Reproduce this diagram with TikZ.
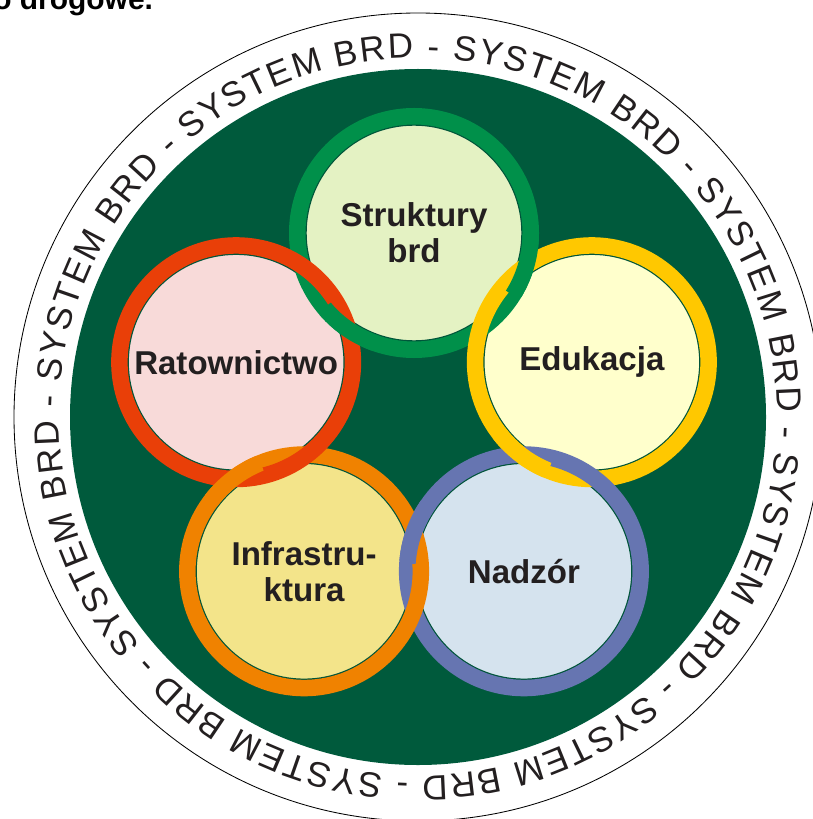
\documentclass[tikz,border=0pt]{standalone}
\usepackage{fontspec}
\setmainfont{Liberation Sans}
\newfontfamily\napisfont{Liberation Sans}
\usetikzlibrary{calc,decorations.text}

\definecolor{tlo}{HTML}{005A3C}
\definecolor{kontur}{HTML}{00553A}
\definecolor{tekst}{HTML}{231F20}
\definecolor{zielony}{HTML}{00904A}
\definecolor{zielonyfill}{HTML}{E4F2C3}
\definecolor{czerwony}{HTML}{E93F08}
\definecolor{czerwonyfill}{HTML}{F8DAD9}
\definecolor{zolty}{HTML}{FFC800}
\definecolor{zoltyfill}{HTML}{FFFFCC}
\definecolor{pomarancz}{HTML}{F08200}
\definecolor{pomaranczfill}{HTML}{F3E48A}
\definecolor{niebieski}{HTML}{6675B1}
\definecolor{niebieskifill}{HTML}{D5E3EE}

\tikzset{
  obwod/.style={line width=0.4125cm},
  wnetrze/.style={draw=kontur,line width=1pt},
  etykieta/.style={text=tekst,align=center,inner sep=0pt,
    font=\bfseries\fontsize{23.5}{25.6}\selectfont}
}

\begin{document}
\begin{tikzpicture}[x=0.025cm,y=0.025cm]

\useasboundingbox (0,0) rectangle (812,-819);

% resztka tekstu nad rysunkiem
\node[anchor=base west,inner sep=0pt,text=black,
  font=\bfseries\fontsize{21.3}{24}\selectfont] (naglowek) at (-7,-10) {o drogowe.};

\coordinate (s) at (418,-417);
\draw[line width=0.6pt] (s) circle (404);
\fill[tlo] (s) circle (348);

% napis dookola
\pgfmathsetmacro{\start}{129.6}
\path[decorate,decoration={text along path,text align={fit to path},text color=tekst,
  text={|\napisfont\fontsize{24.9}{25}\selectfont|SYSTEM BRD - SYSTEM BRD - SYSTEM BRD - SYSTEM BRD - SYSTEM BRD - SYSTEM BRD - SYSTEM BRD - SYSTEM BRD -}}]
  ($(s)+(\start:359)$) arc[start angle=\start,delta angle=-358,radius=359];

\begin{scope}[shift={(414,-420)}]
\pgfmathsetmacro{\pk}{116.75}

\coordinate (o) at (0,0);
\coordinate (g) at (90:187);
\coordinate (y) at (18:187);
\coordinate (b) at (-54:187);
\coordinate (p) at (234:187);
\coordinate (r) at (162:187);

% wnetrza kol
\filldraw[wnetrze,fill=zielonyfill] (g) circle (108);
\filldraw[wnetrze,fill=zoltyfill] (y) circle (108);
\filldraw[wnetrze,fill=niebieskifill] (b) circle (108);
\filldraw[wnetrze,fill=pomaranczfill] (p) circle (108);
\filldraw[wnetrze,fill=czerwonyfill] (r) circle (108);

% obwody
\draw[obwod,zielony] (g) circle (\pk);
\draw[obwod,zolty] (y) circle (\pk);
\draw[obwod,niebieski] (b) circle (\pk);
\draw[obwod,pomarancz] (p) circle (\pk);
\draw[obwod,czerwony] (r) circle (\pk);

% przeplatanie
\begin{scope}
\clip (126:111.9) circle (32);
\draw[obwod,zielony] (g) circle (\pk);
\end{scope}
\begin{scope}
\clip (54:190.7) circle (32);
\draw[obwod,zielony] (g) circle (\pk);
\end{scope}
\begin{scope}
\clip (198:190.7) circle (32);
\draw[obwod,pomarancz] (p) circle (\pk);
\end{scope}
\begin{scope}
\clip (-90:111.9) circle (32);
\draw[obwod,niebieski] (b) circle (\pk);
\end{scope}
\begin{scope}
\clip (-18:111.9) circle (32);
\draw[obwod,zolty] (y) circle (\pk);
\end{scope}

\node[etykieta] (struktury) at (g) {Struktury\\brd};
\node[etykieta] (edukacja) at (y) {Edukacja};
\node[etykieta] (nadzor) at (b) {Nadzór};
\node[etykieta] (infrastruktura) at (p) {Infrastru-\\ktura};
\node[etykieta] (ratownictwo) at (r) {Ratownictwo};

\end{scope}

\end{tikzpicture}
\end{document}
